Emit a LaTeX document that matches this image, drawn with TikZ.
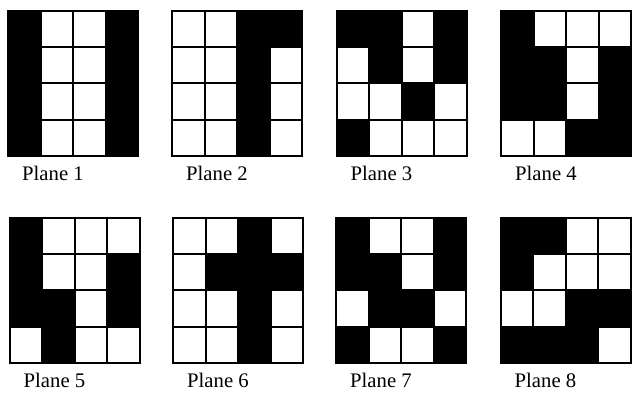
\documentclass[tikz,border=0pt]{standalone}
\usepackage{fontspec}
\setmainfont{Liberation Serif}
\begin{document}
\begin{tikzpicture}[x=1pt,y=-1pt]
				\tikzset{cell/.style = {draw=black, line width=2pt},
					planelabel/.style = {anchor=base west, inner sep=0pt, font=\fontsize{20.7}{24}\selectfont}}
				\newcommand\cw{32.6}
				\newcommand\ch{36.2}
				\clip (0,0) rectangle (632,396);
				\foreach \n/\x/\y/\bits in {
					1/8/11/{1,0,0,1, 1,0,0,1, 1,0,0,1, 1,0,0,1},
					2/172/11/{0,0,1,1, 0,0,1,0, 0,0,1,0, 0,0,1,0},
					3/336.5/11/{1,1,0,1, 0,1,0,1, 0,0,1,0, 1,0,0,0},
					4/501/11/{1,0,0,0, 1,1,0,1, 1,1,0,1, 0,0,1,1},
					5/9.5/218/{1,0,0,0, 1,0,0,1, 1,1,0,1, 0,1,0,0},
					6/173/218/{0,0,1,0, 0,1,1,1, 0,0,1,0, 0,0,1,0},
					7/336/218/{1,0,0,1, 1,1,0,1, 0,1,1,0, 1,0,0,1},
					8/500.5/218/{1,1,0,0, 1,0,0,0, 0,0,1,1, 1,1,1,0}}{
					\foreach \v [count=\k from 0] in \bits {
						\pgfmathtruncatemacro\col{mod(\k,4)}
						\pgfmathtruncatemacro\row{div(\k,4)}
						\ifnum\v=1 \def\cellfill{black}\else\def\cellfill{white}\fi
						\filldraw[cell, fill=\cellfill] (\x+\col*\cw, \y+\row*\ch) rectangle ++(\cw,\ch);
					}
					\node[planelabel] (label\n) at (\x+14, \y+4*\ch+25) {Plane \n};
				}
			\end{tikzpicture}
\end{document}
